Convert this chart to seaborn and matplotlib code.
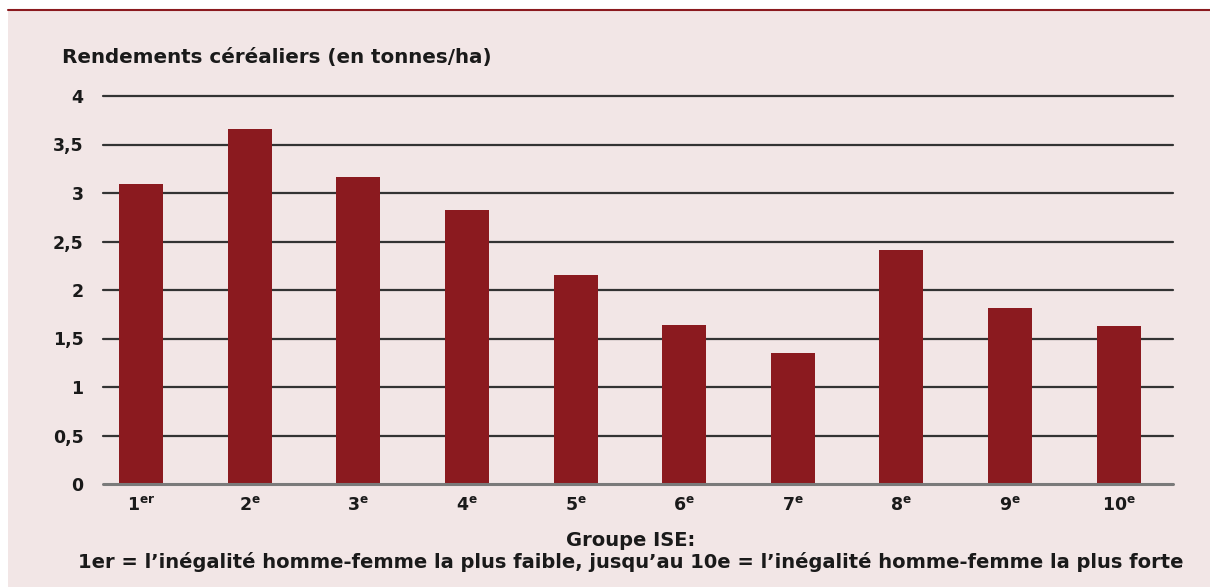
import matplotlib
matplotlib.use("Agg")
import matplotlib.pyplot as plt
import seaborn as sns
import pandas as pd
from matplotlib.patches import Rectangle
from matplotlib.lines import Line2D

groupes = ["1er", "2e", "3e", "4e", "5e", "6e", "7e", "8e", "9e", "10e"]
etiquettes = [r"1$^{\mathbf{er}}$", r"2$^{\mathbf{e}}$", r"3$^{\mathbf{e}}$", r"4$^{\mathbf{e}}$",
              r"5$^{\mathbf{e}}$", r"6$^{\mathbf{e}}$", r"7$^{\mathbf{e}}$", r"8$^{\mathbf{e}}$",
              r"9$^{\mathbf{e}}$", r"10$^{\mathbf{e}}$"]
rendements = [3.09, 3.66, 3.16, 2.82, 2.15, 1.64, 1.35, 2.41, 1.81, 1.63]
yticks = [0, 0.5, 1, 1.5, 2, 2.5, 3, 3.5, 4]
ylabels = ["0", "0,5", "1", "1,5", "2", "2,5", "3", "3,5", "4"]

sns.set_style("white")
plt.rcParams['font.family'] = ['DejaVu Sans']
plt.rcParams['mathtext.fontset'] = 'dejavusans'

df = pd.DataFrame({"groupe": groupes, "rendement": rendements})

fond = "#f2e6e6"
texte = "#1a1a1a"
fig = plt.figure(figsize=(12.1, 5.87), dpi=100, facecolor="white")
fig.patches.append(Rectangle((8/1210, 0), 1 - 8/1210, 1 - 10/587, transform=fig.transFigure,
                             facecolor=fond, edgecolor="none", zorder=-10))
fig.lines.append(Line2D([8/1210, 1], [1 - 9.5/587, 1 - 9.5/587], transform=fig.transFigure,
                        color="#8b1a1f", lw=1.5, zorder=-5))

ax = fig.add_axes([103/1210, 1 - 484/587, (1173 - 103)/1210, (484 - 96)/587])
ax.set_facecolor("none")
sns.barplot(data=df, x="groupe", y="rendement", color="#8b1a1f", width=0.405,
            saturation=1, linewidth=0, ax=ax, zorder=3)

ax.set_ylim(0, 4)
ax.set_xlim(-0.35, 9.5)
ax.set_yticks(yticks)
ax.set_yticklabels(ylabels, fontsize=12.5, fontweight="bold", color=texte)
ax.set_xticks(range(len(groupes)))
ax.set_xticklabels(etiquettes, fontsize=12.5, fontweight="bold", color=texte)
ax.tick_params(axis="both", length=0)
ax.tick_params(axis="y", pad=14)
ax.tick_params(axis="x", pad=9)
for v in yticks[1:]:
    ax.axhline(v, color="#333333", lw=1.6, zorder=1, clip_on=False)
ax.axhline(0, color="#7a7a7a", lw=2.2, zorder=4, clip_on=False)
for s in ax.spines.values():
    s.set_visible(False)
ax.set_ylabel("")
ax.set_xlabel("")

fig.text(62/1210, 1 - 57/587, "Rendements céréaliers (en tonnes/ha)", fontsize=14.3,
         fontweight="bold", color=texte, va="center", ha="left")
fig.text(631/1210, 1 - 540/587, "Groupe ISE:", fontsize=14, fontweight="bold",
         color=texte, va="center", ha="center")
fig.text(631/1210, 1 - 562/587,
         "1er = l’inégalité homme-femme la plus faible, jusqu’au 10e = l’inégalité homme-femme la plus forte",
         fontsize=14, fontweight="bold", color=texte, va="center", ha="center")

fig.savefig("out.png", dpi=100, facecolor=fig.get_facecolor())
